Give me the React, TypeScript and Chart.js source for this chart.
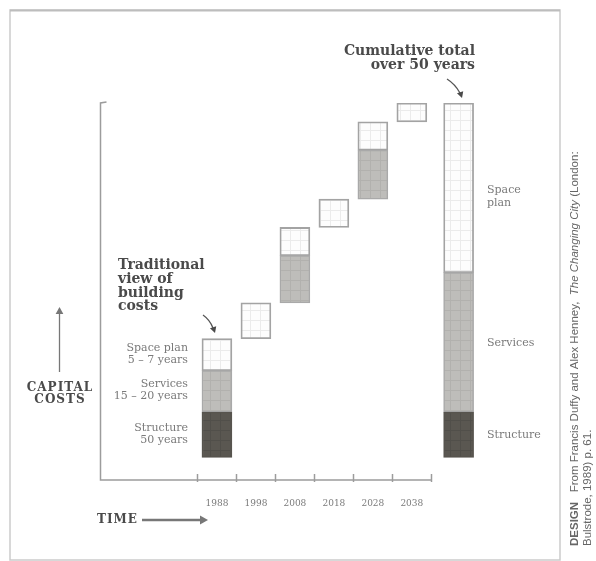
import React, { useEffect, useRef } from 'react';
import { Chart, registerables } from 'chart.js';

Chart.register(...registerables);

// ---- data ----
const YEARS = [1988, 1998, 2008, 2018, 2028, 2038];
const TICK_LABELS = ['1988', '1998', '2008', '2018', '2028', '2038'];
const PERIOD_BOUNDS = [1983, 1993, 2003, 2013, 2023, 2033, 2043];
const CUMULATIVE_X = 2050;

// floating segments [from, to] in capital-cost units, per year (null = no renewal)
const STRUCTURE: (number[] | null)[] = [[6, 18], null, null, null, null, null];
const SERVICES: (number[] | null)[] = [[18, 29], null, [47, 59.5], null, [74.5, 87.5], null];
const SPACE_PLAN: (number[] | null)[] = [[29, 37.5], [37.5, 47], [59.5, 67], [67, 74.5], [87.5, 95], [95, 100]];

const CUM_STRUCTURE = [6, 18];
const CUM_SERVICES = [18, 55];
const CUM_SPACE_PLAN = [55, 100];

const SERIF = '"DejaVu Serif", "Liberation Serif", serif';
const SANS = '"Liberation Sans", "DejaVu Sans", sans-serif';

function makePattern(base: string, line: string): CanvasPattern | string {
  const c = document.createElement('canvas');
  c.width = 10;
  c.height = 10;
  const g = c.getContext('2d');
  if (!g) return base;
  g.fillStyle = base;
  g.fillRect(0, 0, 10, 10);
  g.fillStyle = line;
  g.fillRect(0, 0, 10, 1);
  g.fillRect(0, 0, 1, 10);
  const p = g.createPattern(c, 'repeat');
  return p || base;
}

function points(values: (number[] | null)[], cum: number[]) {
  const pts: { x: number; y: number[] }[] = [];
  values.forEach((v, i) => {
    if (v) pts.push({ x: YEARS[i], y: v });
  });
  pts.push({ x: CUMULATIVE_X, y: cum });
  return pts;
}

function arrowHead(ctx: CanvasRenderingContext2D, x: number, y: number, angle: number, size: number) {
  ctx.save();
  ctx.translate(x, y);
  ctx.rotate(angle);
  ctx.beginPath();
  ctx.moveTo(0, 0);
  ctx.lineTo(-size, -size * 0.55);
  ctx.lineTo(-size, size * 0.55);
  ctx.closePath();
  ctx.fill();
  ctx.restore();
}

const annotate = {
  id: 'annotate',
  afterDraw(chart: any) {
    const { ctx, chartArea, scales } = chart;
    const xs = scales.x;
    ctx.save();

    // frame
    ctx.strokeStyle = '#cbcbcb';
    ctx.lineWidth = 1.5;
    ctx.strokeRect(10, 10, 550, 550);
    ctx.strokeStyle = '#bdbdbd';
    ctx.lineWidth = 2;
    ctx.beginPath();
    ctx.moveTo(10, 10.5);
    ctx.lineTo(560, 10.5);
    ctx.stroke();

    // axes
    const left = chartArea.left + 0.5;
    const bottom = chartArea.bottom;
    const top = chartArea.top;
    const axisEnd = xs.getPixelForValue(PERIOD_BOUNDS[PERIOD_BOUNDS.length - 1]);
    ctx.strokeStyle = '#9c9c9c';
    ctx.lineWidth = 1.5;
    ctx.beginPath();
    ctx.moveTo(left + 6, top - 1);
    ctx.lineTo(left, top);
    ctx.lineTo(left, bottom);
    ctx.lineTo(axisEnd, bottom);
    ctx.stroke();
    PERIOD_BOUNDS.forEach((b) => {
      const px = Math.round(xs.getPixelForValue(b)) + 0.5;
      ctx.beginPath();
      ctx.moveTo(px, bottom - 6);
      ctx.lineTo(px, bottom + 2);
      ctx.stroke();
    });

    // headings
    ctx.fillStyle = '#4a4a4a';
    ctx.textBaseline = 'middle';
    ctx.font = `bold 14px ${SERIF}`;
    ctx.textAlign = 'right';
    ctx.fillText('Cumulative total', 475, 51);
    ctx.fillText('over 50 years', 475, 65);
    ctx.textAlign = 'left';
    ctx.fillText('Traditional', 118, 265);
    ctx.fillText('view of', 118, 279);
    ctx.fillText('building', 118, 293);
    ctx.fillText('costs', 118, 306);

    // heading arrows
    ctx.strokeStyle = '#555';
    ctx.fillStyle = '#4a4a4a';
    ctx.lineWidth = 1.3;
    ctx.beginPath();
    ctx.moveTo(447, 79);
    ctx.quadraticCurveTo(455, 84, 460, 93);
    ctx.stroke();
    arrowHead(ctx, 462, 98, Math.atan2(6, 2), 6);
    ctx.beginPath();
    ctx.moveTo(203, 315);
    ctx.quadraticCurveTo(210, 320, 213, 328);
    ctx.stroke();
    arrowHead(ctx, 215, 333, Math.atan2(6, 2), 6);

    // CAPITAL COSTS
    ctx.textAlign = 'center';
    ctx.font = `bold 12px ${SERIF}`;
    (ctx as any).letterSpacing = '1px';
    ctx.fillText('CAPITAL', 60, 388);
    ctx.fillText('COSTS', 60, 400);
    ctx.textAlign = 'left';
    ctx.fillText('TIME', 97, 520);
    (ctx as any).letterSpacing = '0px';
    ctx.strokeStyle = '#777';
    ctx.fillStyle = '#777';
    ctx.lineWidth = 1.3;
    ctx.beginPath();
    ctx.moveTo(59.5, 372);
    ctx.lineTo(59.5, 312);
    ctx.stroke();
    arrowHead(ctx, 59.5, 307, -Math.PI / 2, 7);
    ctx.lineWidth = 2.5;
    ctx.beginPath();
    ctx.moveTo(142, 520);
    ctx.lineTo(202, 520);
    ctx.stroke();
    arrowHead(ctx, 208, 520, 0, 8);

    // segment labels
    ctx.fillStyle = '#7a7a7a';
    ctx.font = `11px ${SERIF}`;
    ctx.textAlign = 'right';
    ctx.fillText('Space plan', 188, 348);
    ctx.fillText('5 – 7 years', 188, 360);
    ctx.fillText('Services', 188, 384);
    ctx.fillText('15 – 20 years', 188, 396);
    ctx.fillText('Structure', 188, 428);
    ctx.fillText('50 years', 188, 440);
    ctx.textAlign = 'left';
    ctx.fillText('Space', 487, 190);
    ctx.fillText('plan', 487, 203);
    ctx.fillText('Services', 487, 343);
    ctx.fillText('Structure', 487, 435);

    // vertical source note
    ctx.save();
    ctx.translate(575, 546);
    ctx.rotate(-Math.PI / 2);
    ctx.textAlign = 'left';
    ctx.fillStyle = '#666';
    let cx = 0;
    const parts: [string, string][] = [
      ['DESIGN', `bold 11.5px ${SANS}`],
      ['   From Francis Duffy and Alex Henney,  ', `11.5px ${SANS}`],
      ['The Changing City', `italic 11.5px ${SANS}`],
      [' (London:', `11.5px ${SANS}`],
    ];
    parts.forEach(([t, f]) => {
      ctx.font = f;
      ctx.fillText(t, cx, 0);
      cx += ctx.measureText(t).width;
    });
    ctx.font = `11.5px ${SANS}`;
    ctx.fillText('Bulstrode, 1989) p. 61.', 0, 13);
    ctx.restore();

    ctx.restore();
  },
};

export default function App() {
  const ref = useRef<HTMLCanvasElement | null>(null);

  useEffect(() => {
    if (!ref.current) return;
    const spacePat = makePattern('#fdfdfd', '#ebebeb');
    const servPat = makePattern('#bebdba', '#b2b1ae');
    const structPat = makePattern('#5a5751', '#514f4a');
    const chart = new Chart(ref.current, {
      type: 'bar',
      data: {
        datasets: [
          {
            label: 'Structure',
            data: points(STRUCTURE, CUM_STRUCTURE) as any,
            backgroundColor: structPat as any,
            borderColor: '#57544e',
            borderWidth: 1.5,
            borderSkipped: false,
            barThickness: 30,
            grouped: false,
          },
          {
            label: 'Services',
            data: points(SERVICES, CUM_SERVICES) as any,
            backgroundColor: servPat as any,
            borderColor: '#a9a9a9',
            borderWidth: 1.5,
            borderSkipped: false,
            barThickness: 30,
            grouped: false,
          },
          {
            label: 'Space plan',
            data: points(SPACE_PLAN, CUM_SPACE_PLAN) as any,
            backgroundColor: spacePat as any,
            borderColor: '#a3a3a3',
            borderWidth: 1.8,
            borderSkipped: false,
            barThickness: 30,
            grouped: false,
          },
        ],
      },
      options: {
        responsive: false,
        animation: false,
        devicePixelRatio: 1,
        layout: { padding: { left: 100, right: 114, top: 103, bottom: 41 } },
        plugins: {
          legend: { display: false },
          tooltip: { enabled: false },
        },
        scales: {
          x: {
            type: 'linear',
            min: 1958,
            max: 2056,
            offset: false,
            grid: { display: false },
            border: { display: false },
            afterBuildTicks: (s: any) => {
              s.ticks = YEARS.map((v) => ({ value: v }));
            },
            afterFit: (s: any) => {
              s.height = 40;
            },
            ticks: {
              autoSkip: false,
              maxRotation: 0,
              padding: 10,
              color: '#7a7a7a',
              font: { family: SERIF, size: 9 },
              callback: (v: any) => {
                const i = YEARS.indexOf(Number(v));
                return i >= 0 ? TICK_LABELS[i] : '';
              },
            },
          },
          y: { display: false, min: 0, max: 100 },
        },
      } as any,
      plugins: [annotate],
    });
    return () => chart.destroy();
  }, []);

  return (
    <canvas
      ref={ref}
      width={596}
      height={561}
      style={{ position: 'absolute', left: 0, top: 0, width: 596, height: 561, background: '#fff' }}
    />
  );
}
